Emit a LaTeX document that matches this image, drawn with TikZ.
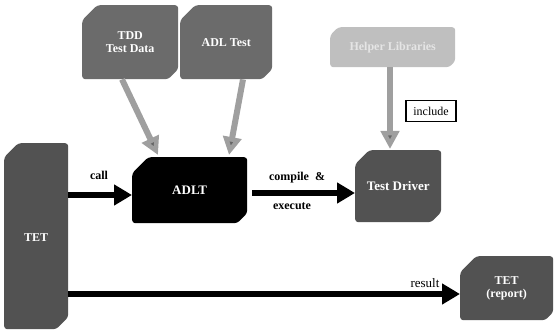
\documentclass[tikz,border=0pt]{standalone}
\usepackage{fontspec}
\setmainfont{Liberation Serif}
\usetikzlibrary{calc,arrows.meta}
\begin{document}
\begin{tikzpicture}[x=1pt,y=-1pt,
  cbox/.style n args={3}{rectangle, inner sep=0pt, anchor=north west, align=center,
    text=white, font=\bfseries\fontsize{12}{13}\selectfont,
    path picture={\fill[#1, rounded corners=3pt]
      ($(path picture bounding box.north west)+(#2,0)$) -- (path picture bounding box.north east)
      -- ($(path picture bounding box.south east)+(0,#3)$) -- ($(path picture bounding box.south east)+(-#3,0)$)
      -- (path picture bounding box.south west) -- ($(path picture bounding box.north west)+(0,-#2)$) -- cycle;}},
  bigarrow/.style={line width=6pt, -{Triangle[length=18pt,width=20pt]}, draw=black},
  grayarrow/.style={line width=6pt, draw=gray!75, -{Triangle[length=18pt,width=18pt,fill=black!60]}},
  lbl/.style={font=\bfseries\fontsize{12}{13}\selectfont, inner sep=0pt}]
\useasboundingbox (0,0) rectangle (554,331);
\node[cbox={black!58}{15pt}{10pt}, minimum width=96pt, minimum height=74pt] (tdd) at (82,5) {TDD\\Test Data};
\node[cbox={black!58}{15pt}{10pt}, minimum width=92pt, minimum height=74pt] (adlt) at (180,5) {ADL Test};
\node[cbox={black!25}{8pt}{6pt}, text=white!90!black, minimum width=125pt, minimum height=40pt] (help) at (330,27) {Helper Libraries};
\node[cbox={black!68}{14pt}{12pt}, minimum width=64pt, minimum height=186pt] (tet) at (4,143) {\raisebox{-10pt}{TET}};
\node[cbox={black}{16pt}{10pt}, font=\bfseries\fontsize{13}{14}\selectfont, minimum width=115pt, minimum height=66pt] (adl) at (132,157) {ADLT};
\node[cbox={black!68}{14pt}{10pt}, font=\bfseries\fontsize{13}{14}\selectfont, minimum width=86pt, minimum height=72pt] (drv) at (355,150) {\raisebox{-6pt}{Test Driver}};
\node[cbox={black!68}{16pt}{8pt}, minimum width=93pt, minimum height=64pt] (rep) at (460,256) {TET\\(report)};
\node[draw, line width=1.2pt, font=\fontsize{12}{13}\selectfont, minimum width=50pt, minimum height=21pt, inner sep=1pt] (inc) at (431,111) {include};
\draw[grayarrow] (tdd.south -| 122,0) -- (158,155);
\draw[grayarrow] (adlt.south -| 243,0) -- (229,155);
\draw[grayarrow] (help.south -| 390,0) -- (390,149);
\draw[bigarrow] (tet.east |- 0,195) -- (adl.west |- 0,195);
\node[lbl] at (99,175) {call};
\draw[bigarrow] ([xshift=5pt]adl.east |- 0,193) -- (drv.west |- 0,193);
\node[lbl] at (297,178) {compile\ \ \&};
\node[lbl] at (292,206) {execute};
\draw[bigarrow] (tet.east |- 0,294) -- (rep.west |- 0,294);
\node[lbl, font=\fontsize{13}{14}\selectfont] at (425,283) {result};
\end{tikzpicture}
\end{document}
